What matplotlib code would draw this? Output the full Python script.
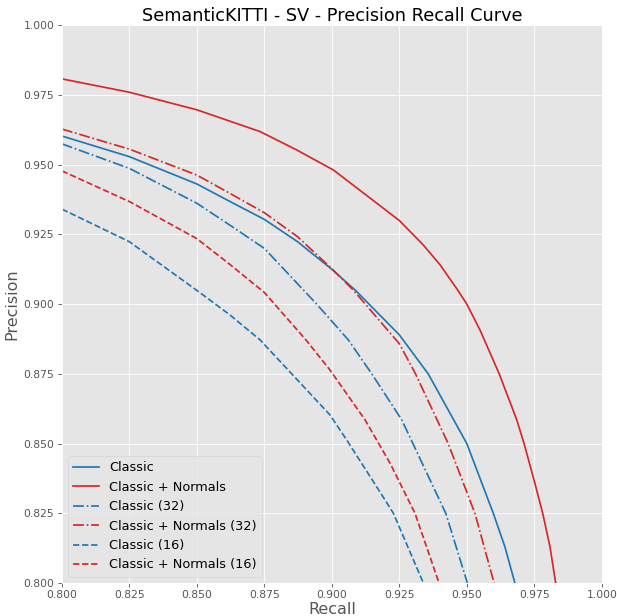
import numpy as np
import matplotlib
matplotlib.use('Agg')
from matplotlib import pyplot as plt

# Curves (recall, precision)
classic_x = [0.800, 0.825, 0.850, 0.8623, 0.875, 0.8873, 0.900, 0.9086, 0.925, 0.9357,
             0.950, 0.9598, 0.9641, 0.9678]
classic_y = [0.9603, 0.9529, 0.9431, 0.9368, 0.9304, 0.9224, 0.9125, 0.9051, 0.889, 0.875,
             0.850, 0.825, 0.813, 0.800]

normals_x = [0.800, 0.825, 0.850, 0.8734, 0.887, 0.9006, 0.925, 0.9339, 0.9401, 0.9463,
             0.950, 0.9549, 0.962, 0.9685, 0.9712, 0.9749, 0.9781, 0.9808, 0.9829]
normals_y = [0.9808, 0.976, 0.9697, 0.9619, 0.9553, 0.9481, 0.930, 0.9212, 0.9141, 0.9055,
             0.900, 0.8907, 0.875, 0.8585, 0.850, 0.8369, 0.825, 0.813, 0.800]

classic32_x = [0.800, 0.825, 0.850, 0.8623, 0.875, 0.8944, 0.9061, 0.9148, 0.9259, 0.9422,
               0.9502]
classic32_y = [0.9575, 0.9487, 0.9362, 0.9283, 0.9200, 0.900, 0.8872, 0.875, 0.8585, 0.825,
               0.800]

normals32_x = [0.800, 0.825, 0.850, 0.8623, 0.875, 0.8873, 0.900, 0.908, 0.925, 0.931,
               0.9431, 0.953, 0.9601]
normals32_y = [0.9628, 0.9556, 0.9463, 0.9397, 0.9328, 0.9242, 0.9127, 0.905, 0.8858, 0.875,
               0.850, 0.825, 0.800]

classic16_x = [0.800, 0.825, 0.8512, 0.8623, 0.8734, 0.8993, 0.9055, 0.9197, 0.9228, 0.9339]
classic16_y = [0.9341, 0.9224, 0.9041, 0.8961, 0.8872, 0.8603, 0.8513, 0.8298, 0.825, 0.800]

normals16_x = [0.800, 0.825, 0.850, 0.8623, 0.875, 0.8904, 0.8993, 0.9123, 0.9216, 0.9308,
               0.9397]
normals16_y = [0.9478, 0.9368, 0.9235, 0.9142, 0.9042, 0.8872, 0.8764, 0.8585, 0.8429, 0.825,
               0.800]

labels = ['Classic', 'Classic + Normals', 'Classic (32)', 'Classic + Normals (32)',
          'Classic (16)', 'Classic + Normals (16)']

plt.style.use('ggplot')

fig = plt.figure(figsize=(617 / 77, 616 / 77), dpi=77)
ax = fig.add_axes([0.1002, 0.0536, 0.8752, 0.9053])

blue = '#1f77b4'
red = '#d62728'
lw = 1.6
ax.plot(classic_x, classic_y, color=blue, lw=lw, label=labels[0])
ax.plot(normals_x, normals_y, color=red, lw=lw, label=labels[1])
ax.plot(classic32_x, classic32_y, color=blue, lw=lw, ls='-.', label=labels[2])
ax.plot(normals32_x, normals32_y, color=red, lw=lw, ls='-.', label=labels[3])
ax.plot(classic16_x, classic16_y, color=blue, lw=lw, ls='--', label=labels[4])
ax.plot(normals16_x, normals16_y, color=red, lw=lw, ls='--', label=labels[5])

ax.set_xlim(0.8, 1.0)
ax.set_ylim(0.8, 1.0)
ticks = np.arange(0.8, 1.0001, 0.025)
ax.set_xticks(ticks)
ax.set_yticks(ticks)
ax.xaxis.set_major_formatter(matplotlib.ticker.FormatStrFormatter('%.3f'))
ax.yaxis.set_major_formatter(matplotlib.ticker.FormatStrFormatter('%.3f'))
ax.tick_params(labelsize=10)

ax.set_title('SemanticKITTI - SV - Precision Recall Curve', fontsize=16.5, color='black', pad=4)
ax.set_xlabel('Recall', fontsize=15, labelpad=1)
ax.set_ylabel('Precision', fontsize=15)
ax.legend(loc='lower left', fontsize=12)

fig.savefig('out.png', dpi=77)
